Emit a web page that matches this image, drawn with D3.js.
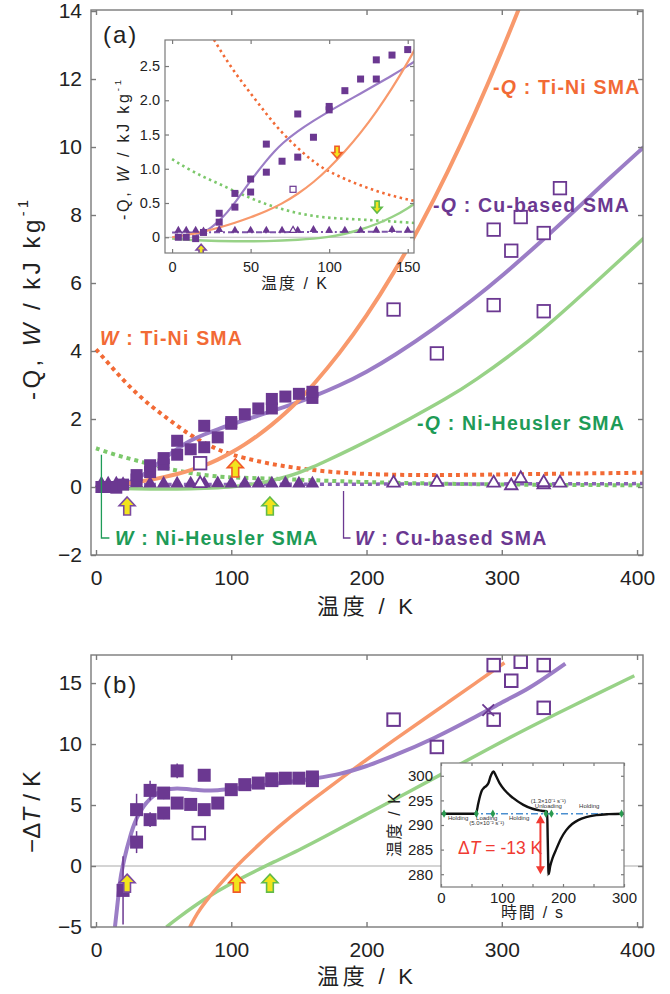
<!DOCTYPE html>
<html>
<head>
<meta charset="utf-8">
<script src="https://cdn.jsdelivr.net/npm/d3@7/dist/d3.min.js"></script>
<style>
body { margin: 0; background: #fff; }
text { font-family: "Liberation Sans", Arial, "Noto Sans CJK JP", sans-serif; }
</style>
</head>
<body>
<svg id="chart" width="670" height="994"></svg>
<script>
// ---- panel (a): -Q and W (kJ/kg) against temperature (K)
var qTiNi = [[0,0],[10,0.035],[20,0.08],[30,0.14],[40,0.21],[50,0.29],[60,0.38],[70,0.49],[80,0.63],[90,0.8],[100,1.01],[110,1.25],[120,1.52],[130,1.83],[140,2.17],[150,2.55],[160,2.97],[180,3.92],[200,5.02],[220,6.28],[240,7.69],[260,9.25],[280,10.96],[300,12.81],[315,14.3]]
var qCu = [[15,0.03],[20,0.07],[25,0.14],[30,0.24],[35,0.36],[40,0.5],[50,0.83],[60,1.12],[65,1.25],[70,1.37],[80,1.55],[90,1.7],[100,1.84],[110,1.97],[120,2.1],[130,2.23],[140,2.36],[150,2.5],[160,2.65],[180,2.98],[200,3.38],[220,3.85],[250,4.65],[280,5.55],[300,6.2],[330,7.25],[360,8.35],[380,9.1],[405,10.0]]
var qNiH = [[0,-0.02],[20,-0.05],[40,-0.06],[60,-0.06],[80,-0.04],[100,0],[110,0.05],[120,0.11],[130,0.19],[140,0.29],[150,0.42],[160,0.58],[170,0.76],[190,1.14],[210,1.54],[230,1.96],[260,2.62],[280,3.12],[310,3.98],[330,4.62],[350,5.32],[380,6.4],[405,7.32]]
var wTiNi = [[0,4.05],[10,3.6],[20,3.15],[30,2.75],[40,2.4],[50,2.1],[60,1.8],[70,1.52],[80,1.3],[90,1.1],[100,0.95],[120,0.75],[140,0.6],[160,0.5],[180,0.42],[200,0.38],[230,0.35],[260,0.35],[300,0.37],[340,0.39],[405,0.42]]
var wNiH = [[0,1.14],[10,1.0],[20,0.88],[30,0.78],[40,0.67],[50,0.57],[60,0.48],[70,0.41],[80,0.35],[90,0.31],[100,0.28],[120,0.26],[140,0.23],[160,0.2],[200,0.14],[250,0.1],[300,0.07],[405,0.05]]
var wCu = [[0,0.07],[150,0.08],[405,0.1]]

var cuQ = [[4,0],[9,0],[15,-0.02],[20,0.07],[30,0.22],[30,0.35],[40,0.44],[40,0.64],[50,0.66],[50,0.85],[60,0.95],[60,1.36],[70,1.11],[80,1.17],[80,1.8],[90,1.46],[100,1.86],[100,1.91],[110,2.14],[120,2.31],[130,2.31],[130,2.59],[140,2.66],[150,2.74],[160,2.62],[160,2.8]]
var cuW = [[4,0.1],[9,0.1],[15,0.1],[20,0.09],[30,0.11],[40,0.1],[50,0.1],[60,0.1],[70,0.1],[80,0.1],[90,0.11],[100,0.1],[110,0.1],[120,0.1],[130,0.1],[140,0.11],[150,0.1],[160,0.1]]
var cuQopen = [[77,0.7],[220,5.22],[252,3.93],[294,7.57],[294,5.35],[307,6.95],[314,7.94],[331,7.47],[331,5.17],[343,8.79]]
var cuWopen = [[77,0.1],[220,0.12],[252,0.14],[294,0.12],[307,0.04],[314,0.25],[331,0.07],[331,0.13],[343,0.12]]

// transformation temperatures [series, T, value, direction]
var arrowsA = [["cu",23,-0.56,"up"],["tini",103,0.56,"up"],["nih",128.6,-0.56,"up"]]
var arrowsInset = [["cu",18.5,-0.19,"up"],["tini",105,1.24,"down"],["nih",130.5,0.44,"down"]]

var ticksAx = [0,100,200,300,400]
var ticksAy = [-2,0,2,4,6,8,10,12,14]
var ticksIx = [0,50,100,150]
var ticksIy = [0,0.5,1,1.5,2,2.5]

// ---- panel (b): -dT (K) against temperature (K), [T, value, error]
var dT = [[20,-2.0,2.8],[30,1.96,0.9],[30,4.62,1.3],[40,3.8,0.6],[40,6.2,0.8],[50,4.34,0.5],[50,5.98,0.5],[60,7.8,0.6],[60,5.16,0.3],[70,5.05,0.3],[80,7.44,0.3],[80,4.62,0.3],[90,5.16,0.3],[100,6.26,0.3],[110,6.67,0.3],[120,6.8,0.3],[130,7.0,0.3],[130,7.15,0.3],[140,7.2,0.3],[150,7.2,0.3],[160,7.0,0.3],[160,7.3,0.3]]
var dTopen = [[76,2.7],[220,12.0],[252,9.76],[294,16.47],[294,12.0],[307,15.19],[314,16.75],[331,16.47],[331,12.97]]
var dTcross = [[290,12.78]]
var bCu = [[14,-5],[15.5,-3.5],[17,-2],[18,-1.1],[20,0.1],[22.5,1.3],[25,2.3],[27.5,3.2],[30,3.9],[35,4.85],[40,5.5],[45,5.95],[50,6.2],[60,6.35],[70,6.28],[80,6.2],[90,6.22],[100,6.32],[120,6.6],[140,6.85],[160,7.15],[180,7.55],[200,8.2],[220,9.05],[250,10.5],[280,12.2],[300,13.4],[320,14.6],[347,16.6]]
var bTiNi = [[67,-5.6],[70,-4.85],[75,-3.85],[80,-3.05],[90,-1.7],[100,-0.46],[110,0.66],[120,1.72],[130,2.73],[140,3.7],[160,5.42],[180,7.1],[200,8.72],[220,10.3],[240,11.85],[260,13.4],[280,14.95],[302,16.66]]
var bNiH = [[52,-5],[60,-4.3],[80,-2.7],[100,-1.4],[120,-0.3],[130,0.25],[150,1.3],[170,2.45],[200,4.25],[230,6.0],[260,7.8],[290,9.6],[320,11.35],[350,13.0],[398,15.6]]
var arrowsB = [["cu",23,-1.4,"up"],["tini",104,-1.4,"up"],["nih",128.6,-1.4,"up"]]
var ticksBy = [-5,0,5,10,15]

// ---- inset of (b): temperature (K) against time (s)
var tempTrace = [[0,292.3],[55,292.3],[58,292.6],[61,294.3],[64,295.9],[67,297.0],[70,297.5],[74,297.9],[78,298.6],[81,299.8],[84,300.6],[86,300.9],[90,300.0],[96,298.5],[105,297.0],[118,295.5],[135,294.1],[150,293.3],[165,292.9],[174,292.7],[175,287],[176.5,280.0],[179,281.6],[183,283.3],[189,285.1],[197,287.3],[205,288.9],[215,290.2],[225,291.0],[238,291.6],[255,292.0],[275,292.2],[300,292.3]]
var holdLevel = [[0,292.3],[300,292.3]]
var stepTimes = [5,58,85,172,181,296]
var stepLabels = [["Holding",28,291.1],["Loading",75,291.1],["(5.0×10⁻² s⁻¹)",75,290.1],["Holding",128,291.1],["(1.3×10⁻¹ s⁻¹)",176,294.4],["Unloading",176,293.4],["Holding",243,293.4]]
var deltaT = [163, 292.0, 280.0]
var ticksCx = [0,50,100,150,200,250,300]
var ticksCy = [280,285,290,295,300]

var svg = d3.select("#chart")

var violet = "#6b3891", violetLine = "#9b7dc6", orange = "#f26a35", orangeLine = "#f8996c", green = "#1e9b57", greenLine = "#98d287", greenDot = "#7cc86b", gray = "#7a7a7a"
var arrowEdge = { cu: "#7b4aa0", tini: "#f05a28", nih: "#62bb4a" }

var xA = d3.scaleLinear().domain([-3.7, 404.4]).range([91, 643])
var yA = d3.scaleLinear().domain([-2, 14.03]).range([555, 10])
var xI = d3.scaleLinear().domain([-4.5, 154]).range([165, 414])
var yI = d3.scaleLinear().domain([-0.23, 2.88]).range([253, 40])
var xB = d3.scaleLinear().domain([-3.7, 404.4]).range([91, 643])
var yB = d3.scaleLinear().domain([-5, 17.3]).range([927, 655])
var xC = d3.scaleLinear().domain([0, 300]).range([441, 624])
var yC = d3.scaleLinear().domain([277.4, 302.6]).range([887, 763])

function clip(id, x, y) {
  svg.append("clipPath").attr("id", id).append("rect")
    .attr("x", x.range()[0]).attr("y", y.range()[1])
    .attr("width", x.range()[1] - x.range()[0])
    .attr("height", y.range()[0] - y.range()[1])
  return "url(#" + id + ")"
}

function frame(x, y, o) {
  var g = svg.append("g")
  var x0 = x.range()[0], x1 = x.range()[1], y0 = y.range()[0], y1 = y.range()[1]
  g.append("g").attr("transform", "translate(0," + y0 + ")")
    .call(d3.axisBottom(x).tickValues(o.xt).tickSize(-o.tick).tickSizeOuter(0).tickPadding(o.padx).tickFormat(o.xf))
  g.append("g").attr("transform", "translate(0," + y1 + ")")
    .call(d3.axisTop(x).tickValues(o.xt).tickSize(-o.tick).tickSizeOuter(0).tickFormat(""))
  g.append("g").attr("transform", "translate(" + x0 + ",0)")
    .call(d3.axisLeft(y).tickValues(o.yt).tickSize(-o.tick).tickSizeOuter(0).tickPadding(o.pady).tickFormat(o.yf))
  g.append("g").attr("transform", "translate(" + x1 + ",0)")
    .call(d3.axisRight(y).tickValues(o.yt).tickSize(-o.tick).tickSizeOuter(0).tickFormat(""))
  g.selectAll(".domain").remove()
  g.selectAll(".tick line").attr("stroke", gray).attr("stroke-width", o.sw)
  g.selectAll(".tick text").attr("font-size", o.fs).attr("fill", "#222")
  g.append("rect").attr("x", x0).attr("y", y1).attr("width", x1 - x0).attr("height", y0 - y1)
    .attr("fill", "none").attr("stroke", gray).attr("stroke-width", o.sw)
  return g
}

// fitted curves are drawn smooth (basis), traces through their points (monotone)
function curve(g, x, y, data, color, width, dash, type) {
  g.append("path").datum(data)
    .attr("d", d3.line().x(d => x(d[0])).y(d => y(d[1])).curve(type || d3.curveBasis))
    .attr("fill", "none").attr("stroke", color).attr("stroke-width", width)
    .attr("stroke-dasharray", dash || null)
}

function squares(g, x, y, data, s, fill, stroke, sw) {
  g.append("g").selectAll("rect").data(data).join("rect")
    .attr("x", d => x(d[0]) - s / 2).attr("y", d => y(d[1]) - s / 2)
    .attr("width", s).attr("height", s)
    .attr("fill", fill).attr("stroke", stroke || "none").attr("stroke-width", sw || 0)
}

function triangles(g, x, y, data, side, fill, stroke, sw) {
  var sym = d3.symbol(d3.symbolTriangle, Math.sqrt(3) / 4 * side * side)
  g.append("g").selectAll("path").data(data).join("path")
    .attr("transform", d => "translate(" + x(d[0]) + "," + y(d[1]) + ")")
    .attr("d", sym)
    .attr("fill", fill).attr("stroke", stroke || "none").attr("stroke-width", sw || 0)
}

function arrowPath(w, h) {
  var hw = w / 2, sw = w * 0.21, yh = -h / 2 + h * 0.48
  return "M0," + (-h / 2) + "L" + hw + "," + yh + "L" + sw + "," + yh + "L" + sw + "," + (h / 2) +
    "L" + (-sw) + "," + (h / 2) + "L" + (-sw) + "," + yh + "L" + (-hw) + "," + yh + "Z"
}

function arrows(g, x, y, data, w, h) {
  g.append("g").selectAll("path").data(data).join("path")
    .attr("transform", d => "translate(" + x(d[1]) + "," + y(d[2]) + ")" + (d[3] == "down" ? " rotate(180)" : ""))
    .attr("d", arrowPath(w, h))
    .attr("fill", "#f2e41c").attr("stroke", d => arrowEdge[d[0]]).attr("stroke-width", 1.6)
}

function rich(g, x, y, parts, color, fs, bold) {
  var t = g.append("text").attr("x", x).attr("y", y).attr("fill", color).attr("font-size", fs)
    .attr("font-weight", bold ? "bold" : null)
  parts.forEach(function (p) {
    var s = t.append("tspan").text(p[0])
    if (p[1] == "i") s.attr("font-style", "italic")
    if (p[1] == "sup") s.attr("font-size", fs * 0.6).attr("baseline-shift", "super")
  })
  return t
}

function ylabel(cx, cy, parts, fs, len) {
  var t = rich(svg, 0, 0, parts, "#222", fs)
    .attr("transform", "translate(" + cx + "," + cy + ") rotate(-90)")
    .attr("text-anchor", "middle").attr("dominant-baseline", "central")
  if (len) t.attr("textLength", len).attr("lengthAdjust", "spacing")
  return t
}

function xlabel(cx, y, txt, fs, len) {
  var t = svg.append("text").attr("x", cx).attr("y", y).attr("text-anchor", "middle")
    .attr("font-size", fs).attr("fill", "#222").text(txt)
  if (len) t.attr("textLength", len).attr("lengthAdjust", "spacing")
}

// ================= panel (a)
var plotA = svg.append("g").attr("clip-path", clip("clipA", xA, yA))
curve(plotA, xA, yA, wTiNi, orange, 4, "4,4")
curve(plotA, xA, yA, wNiH, greenDot, 4, "4,4")
curve(plotA, xA, yA, wCu, "#8a62b6", 3.5, "4,4")
curve(plotA, xA, yA, qNiH, greenLine, 3.5)
curve(plotA, xA, yA, qCu, violetLine, 4)
curve(plotA, xA, yA, qTiNi, orangeLine, 4)
triangles(plotA, xA, yA, cuW, 13.5, violet)
squares(plotA, xA, yA, cuQ, 12, violet)
squares(plotA, xA, yA, cuQopen, 12.5, "#fff", violet, 1.8)
triangles(plotA, xA, yA, cuWopen, 12.5, "#fff", violet, 1.8)
arrows(plotA, xA, yA, arrowsA, 16, 18)

frame(xA, yA, { xt: ticksAx, yt: ticksAy, tick: 5, sw: 1.4, fs: 21, padx: 15, pady: 9,
  xf: d3.format("d"), yf: d3.format("d") })

// inset of (a)
svg.append("rect").attr("x", xI.range()[0]).attr("y", yI.range()[1])
  .attr("width", xI.range()[1] - xI.range()[0]).attr("height", yI.range()[0] - yI.range()[1]).attr("fill", "#fff")
var plotI = svg.append("g").attr("clip-path", clip("clipI", xI, yI))
plotI.append("line").attr("x1", xI.range()[0]).attr("x2", xI.range()[1])
  .attr("y1", yI(0)).attr("y2", yI(0)).attr("stroke", "#bbb").attr("stroke-width", 1.2)
curve(plotI, xI, yI, wTiNi, orange, 2.6, "2.5,3.5")
curve(plotI, xI, yI, wNiH, greenDot, 2.6, "2.5,3.5")
curve(plotI, xI, yI, wCu, "#7d55aa", 2, "6,3,2,3")
curve(plotI, xI, yI, qNiH, greenLine, 2.4)
curve(plotI, xI, yI, qCu, violetLine, 2.2)
curve(plotI, xI, yI, qTiNi, orangeLine, 2.2)
triangles(plotI, xI, yI, cuW, 8, violet)
squares(plotI, xI, yI, cuQ, 7, violet)
squares(plotI, xI, yI, cuQopen, 6, "#fff", violet, 1.2)
triangles(plotI, xI, yI, cuWopen, 7, "#fff", violet, 1.2)
arrows(plotI, xI, yI, arrowsInset, 10, 12)
frame(xI, yI, { xt: ticksIx, yt: ticksIy, tick: 4, sw: 1.2, fs: 14.5, padx: 9, pady: 5,
  xf: d3.format("d"), yf: d => d == 0 ? "0" : d3.format(".1f")(d) })
ylabel(123, 150, [["-Q, "], ["W", "i"], [" / kJ kg"], ["-1", "sup"]], 16, 140)
xlabel(294, 289, "温度 / K", 16, 66)

// series labels
rich(svg, 493, 94, [["-"], ["Q", "i"], [" : Ti-Ni SMA"]], orange, 19.5, true).attr("letter-spacing", 1.2)
rich(svg, 433, 212, [["-"], ["Q", "i"], [" : Cu-based SMA"]], violet, 19.5, true).attr("letter-spacing", 1.2)
rich(svg, 100, 345, [["W", "i"], [" : Ti-Ni SMA"]], orange, 19.5, true).attr("letter-spacing", 1.2)
rich(svg, 417, 430, [["-"], ["Q", "i"], [" : Ni-Heusler SMA"]], green, 19.5, true).attr("letter-spacing", 1.2)
rich(svg, 115, 545, [["W", "i"], [" : Ni-Heusler SMA"]], green, 19.5, true).attr("letter-spacing", 1.2)
rich(svg, 355, 545, [["W", "i"], [" : Cu-based SMA"]], violet, 19.5, true).attr("letter-spacing", 1.2)
svg.append("path").attr("d", "M" + xA(4) + "," + yA(0.95) + "V" + yA(-1.5) + "h8")
  .attr("fill", "none").attr("stroke", green).attr("stroke-width", 1.3)
svg.append("path").attr("d", "M" + xA(183) + "," + yA(-0.12) + "V" + yA(-1.5) + "h7")
  .attr("fill", "none").attr("stroke", violet).attr("stroke-width", 1.3)

svg.append("text").attr("x", 103).attr("y", 43).attr("font-size", 24).attr("letter-spacing", 2).attr("fill", "#222").text("(a)")
ylabel(31, 300, [["-Q, "], ["W", "i"], [" / kJ kg"], ["-1", "sup"]], 24, 200)
xlabel(365, 614, "温度 / K", 22, 96)

// ================= panel (b)
var plotB = svg.append("g").attr("clip-path", clip("clipB", xB, yB))
plotB.append("line").attr("x1", xB.range()[0]).attr("x2", xB.range()[1])
  .attr("y1", yB(0)).attr("y2", yB(0)).attr("stroke", "#aaa").attr("stroke-width", 1.2)
curve(plotB, xB, yB, bNiH, greenLine, 3.5)
curve(plotB, xB, yB, bTiNi, orangeLine, 3.5)
curve(plotB, xB, yB, bCu, violetLine, 4, null, d3.curveMonotoneX)
plotB.append("g").selectAll("line").data(dT).join("line")
  .attr("x1", d => xB(d[0])).attr("x2", d => xB(d[0]))
  .attr("y1", d => yB(d[1] - d[2])).attr("y2", d => yB(d[1] + d[2]))
  .attr("stroke", violet).attr("stroke-width", 1.5)
squares(plotB, xB, yB, dT, 13, violet)
squares(plotB, xB, yB, dTopen, 12.5, "#fff", violet, 2)
plotB.append("g").selectAll("path").data(dTcross).join("path")
  .attr("transform", d => "translate(" + xB(d[0]) + "," + yB(d[1]) + ")")
  .attr("d", d3.symbol(d3.symbolTimes, 90))
  .attr("fill", "none").attr("stroke", violet).attr("stroke-width", 1.8)
arrows(plotB, xB, yB, arrowsB, 16, 18)

frame(xB, yB, { xt: ticksAx, yt: ticksBy, tick: 5, sw: 1.4, fs: 21, padx: 15, pady: 9,
  xf: d3.format("d"), yf: d3.format("d") })
svg.append("text").attr("x", 103).attr("y", 693).attr("font-size", 24).attr("letter-spacing", 2).attr("fill", "#222").text("(b)")
ylabel(31, 812, [["−Δ"], ["T", "i"], [" / K"]], 24, 82)
xlabel(365, 984, "温度 / K", 22, 96)

// inset of (b)
svg.append("rect").attr("x", xC.range()[0]).attr("y", yC.range()[1])
  .attr("width", xC.range()[1] - xC.range()[0]).attr("height", yC.range()[0] - yC.range()[1]).attr("fill", "#fff")
var plotC = svg.append("g").attr("clip-path", clip("clipC", xC, yC))
plotC.append("line").attr("x1", xC(174.5)).attr("x2", xC(174.5))
  .attr("y1", yC(292.8)).attr("y2", yC(279.6)).attr("stroke", "#999").attr("stroke-width", 1)
plotC.append("path").datum(holdLevel)
  .attr("d", d3.line().x(d => xC(d[0])).y(d => yC(d[1])))
  .attr("stroke", "#4b8fd0").attr("stroke-width", 1.5).attr("stroke-dasharray", "7,3,2,3").attr("fill", "none")
plotC.append("path").datum(tempTrace)
  .attr("d", d3.line().x(d => xC(d[0])).y(d => yC(d[1])).curve(d3.curveMonotoneX))
  .attr("fill", "none").attr("stroke", "#111").attr("stroke-width", 2.4)
plotC.append("g").selectAll("path").data(stepTimes).join("path")
  .attr("transform", d => "translate(" + xC(d) + "," + yC(holdLevel[0][1]) + ")")
  .attr("d", d3.symbol(d3.symbolDiamond, 20)).attr("fill", "#2a9a50")
plotC.append("g").selectAll("text").data(stepLabels).join("text")
  .attr("x", d => xC(d[1])).attr("y", d => yC(d[2])).attr("text-anchor", "middle")
  .attr("font-size", 6).attr("fill", "#333").text(d => d[0])
var ax = xC(deltaT[0])
plotC.append("line").attr("x1", ax).attr("x2", ax).attr("y1", yC(deltaT[1]) + 6).attr("y2", yC(deltaT[2]) - 6)
  .attr("stroke", "#f03a32").attr("stroke-width", 2)
plotC.append("path").attr("d", "M" + ax + "," + yC(deltaT[1]) + "l-4.5,8h9Z").attr("fill", "#f03a32")
plotC.append("path").attr("d", "M" + ax + "," + yC(deltaT[2]) + "l-4.5,-8h9Z").attr("fill", "#f03a32")
rich(plotC, xC(28), yC(284.1), [["Δ"], ["T", "i"], [" = -13 K"]], "#f03a32", 17.5)
frame(xC, yC, { xt: ticksCx, yt: ticksCy, tick: 3, sw: 1.2, fs: 15, padx: 5, pady: 8,
  xf: d => d % 100 == 0 ? d : "", yf: d3.format("d") })
ylabel(394, 825, [["温度 / K"]], 16, 64)
xlabel(532, 918, "時間 / s", 16, 62)
</script>
</body>
</html>
